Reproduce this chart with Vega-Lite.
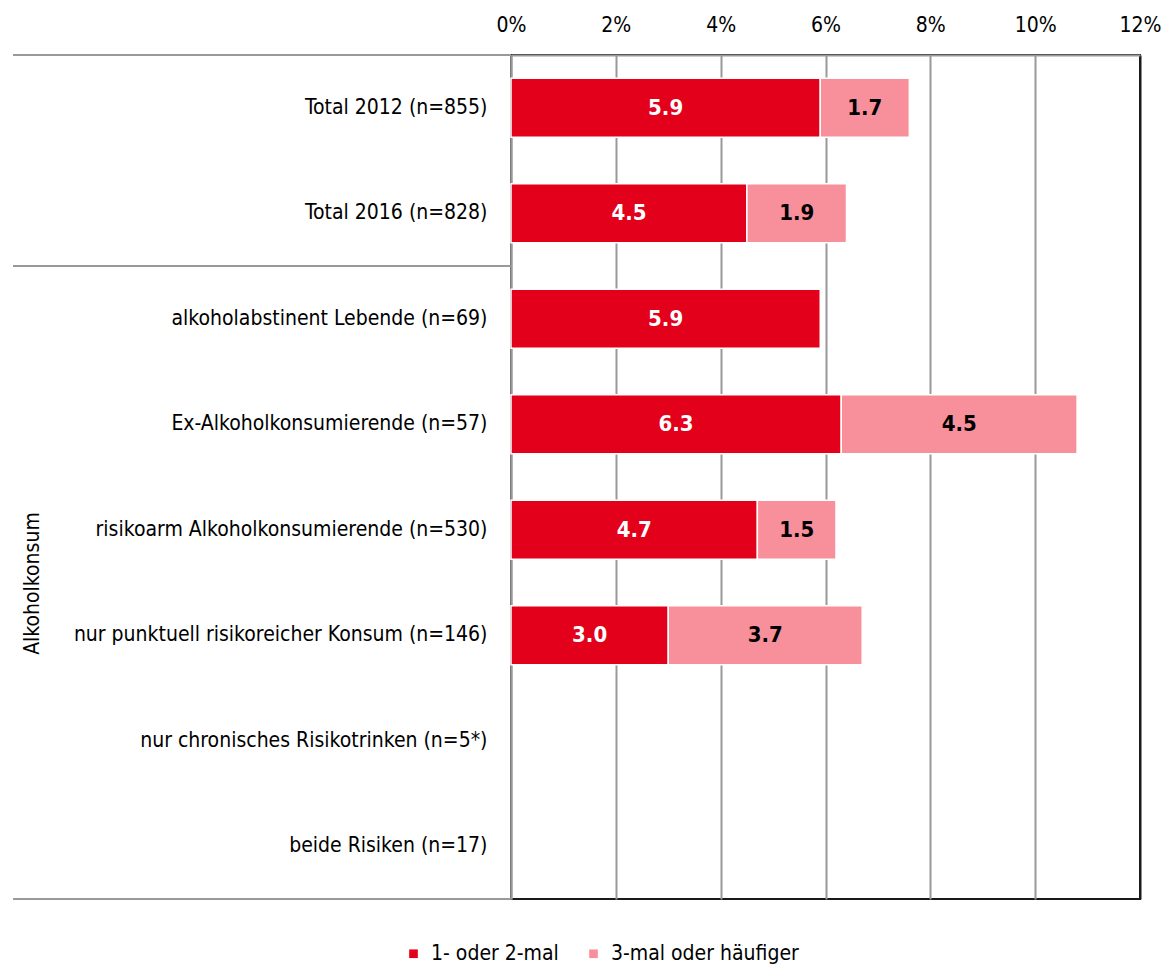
{
  "$schema": "https://vega.github.io/schema/vega-lite/v6.json",
  "width": 629,
  "height": 844,
  "autosize": {"type": "none"},
  "padding": {"left": 511, "top": 55, "right": 26, "bottom": 66},
  "background": "white",
  "config": {
    "font": "DejaVu Sans Condensed, Liberation Sans, sans-serif",
    "view": {"stroke": "#1a1a1a", "strokeWidth": 2}
  },
  "data": {
    "values": [
      {"cat": "Total 2012 (n=855)", "series": "1- oder 2-mal", "value": 5.9},
      {"cat": "Total 2012 (n=855)", "series": "3-mal oder häufiger", "value": 1.7},
      {"cat": "Total 2016 (n=828)", "series": "1- oder 2-mal", "value": 4.5},
      {"cat": "Total 2016 (n=828)", "series": "3-mal oder häufiger", "value": 1.9},
      {"cat": "alkoholabstinent Lebende (n=69)", "series": "1- oder 2-mal", "value": 5.9},
      {"cat": "Ex-Alkoholkonsumierende (n=57)", "series": "1- oder 2-mal", "value": 6.3},
      {"cat": "Ex-Alkoholkonsumierende (n=57)", "series": "3-mal oder häufiger", "value": 4.5},
      {"cat": "risikoarm Alkoholkonsumierende (n=530)", "series": "1- oder 2-mal", "value": 4.7},
      {"cat": "risikoarm Alkoholkonsumierende (n=530)", "series": "3-mal oder häufiger", "value": 1.5},
      {"cat": "nur punktuell risikoreicher Konsum (n=146)", "series": "1- oder 2-mal", "value": 3.0},
      {"cat": "nur punktuell risikoreicher Konsum (n=146)", "series": "3-mal oder häufiger", "value": 3.7}
    ]
  },
  "encoding": {
    "y": {
      "field": "cat",
      "type": "nominal",
      "scale": {
        "domain": [
          "Total 2012 (n=855)",
          "Total 2016 (n=828)",
          "alkoholabstinent Lebende (n=69)",
          "Ex-Alkoholkonsumierende (n=57)",
          "risikoarm Alkoholkonsumierende (n=530)",
          "nur punktuell risikoreicher Konsum (n=146)",
          "nur chronisches Risikotrinken (n=5*)",
          "beide Risiken (n=17)"
        ],
        "paddingInner": 0,
        "paddingOuter": 0
      },
      "axis": {
        "title": "Alkoholkonsum",
        "titleX": -473,
        "titleY": 528,
        "titleAngle": 270,
        "titleAlign": "center",
        "titleBaseline": "alphabetic",
        "titleFontSize": 21,
        "titleFontWeight": "normal",
        "titleColor": "black",
        "ticks": false,
        "labelPadding": 24,
        "labelFontSize": 21,
        "labelColor": "black",
        "labelLimit": 0,
        "domainColor": "#999999",
        "domainWidth": 2,
        "grid": false
      }
    }
  },
  "layer": [
    {
      "mark": {"type": "bar", "stroke": "white", "strokeWidth": 1.5, "height": {"band": 0.56}},
      "encoding": {
        "x": {
          "field": "value",
          "type": "quantitative",
          "stack": "zero",
          "scale": {"domain": [0, 12], "nice": false},
          "axis": {
            "orient": "top",
            "title": null,
            "values": [0, 2, 4, 6, 8, 10, 12],
            "labelExpr": "datum.value + '%'",
            "labelFlush": false,
            "labelFontSize": 21,
            "labelColor": "black",
            "labelPadding": 20,
            "ticks": false,
            "grid": true,
            "gridColor": {"condition": {"test": "datum.value === 12", "value": "#1a1a1a"}, "value": "#999999"},
            "gridWidth": 2,
            "domainColor": "#999999",
            "domainWidth": 2
          }
        },
        "color": {
          "field": "series",
          "type": "nominal",
          "scale": {
            "domain": ["1- oder 2-mal", "3-mal oder häufiger"],
            "range": ["#E3001B", "#F8909C"]
          },
          "legend": {
            "orient": "none",
            "legendX": -108,
            "legendY": 888,
            "direction": "horizontal",
            "title": null,
            "symbolType": "square",
            "symbolSize": 75,
            "symbolStrokeWidth": 0,
            "labelFontSize": 21,
            "labelColor": "black",
            "labelLimit": 0,
            "columnPadding": 24,
            "labelOffset": 7
          }
        },
        "order": {"field": "series", "type": "nominal"}
      }
    },
    {
      "transform": [
        {"stack": "value", "groupby": ["cat"], "sort": [{"field": "series"}], "as": ["x0", "x1"]},
        {"calculate": "(datum.x0 + datum.x1) / 2", "as": "mid"}
      ],
      "mark": {"type": "text", "fontWeight": "bold", "fontSize": 22, "align": "center", "baseline": "middle"},
      "encoding": {
        "x": {"field": "mid", "type": "quantitative"},
        "text": {"field": "value", "type": "quantitative", "format": ".1f"},
        "color": {"condition": {"test": "datum.series === '1- oder 2-mal'", "value": "white"}, "value": "black"}
      }
    },
    {
      "data": {"values": [{"cat": "Total 2012 (n=855)"}, {"cat": "alkoholabstinent Lebende (n=69)"}]},
      "mark": {"type": "rule", "color": "#999999", "strokeWidth": 2},
      "encoding": {
        "y": {"field": "cat", "type": "nominal", "bandPosition": 0},
        "x": {"datum": -9.5},
        "x2": {"datum": 0}
      }
    },
    {
      "data": {"values": [{"cat": "beide Risiken (n=17)"}]},
      "mark": {"type": "rule", "color": "#999999", "strokeWidth": 2},
      "encoding": {
        "y": {"field": "cat", "type": "nominal", "bandPosition": 1},
        "x": {"datum": -9.5},
        "x2": {"datum": 0}
      }
    }
  ]
}
